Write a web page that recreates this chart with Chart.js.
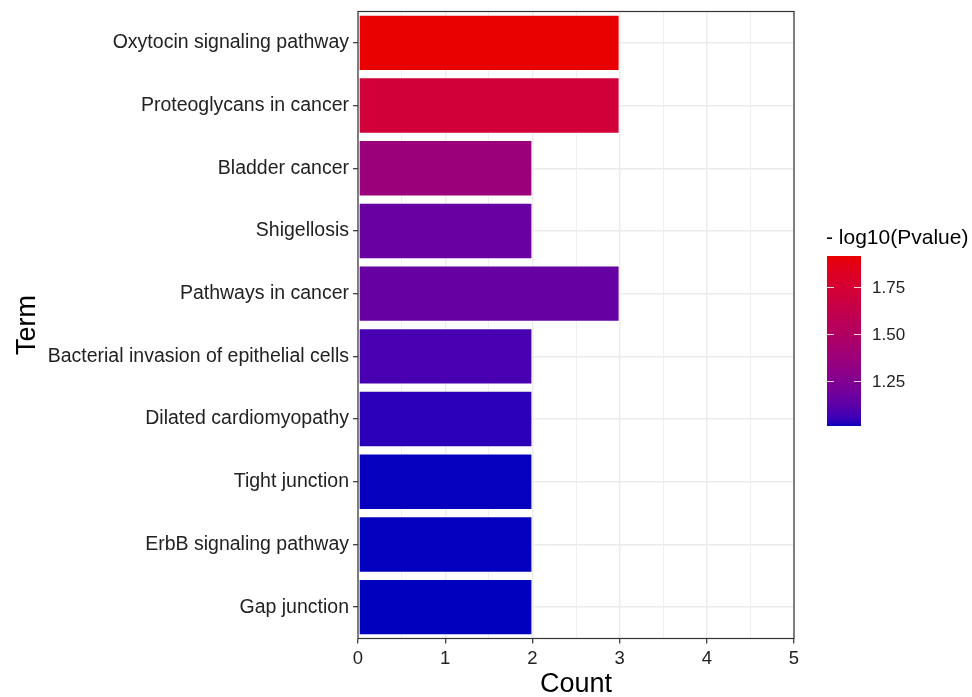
<!DOCTYPE html>
<html>
<head>
<meta charset="utf-8">
<script src="https://cdn.jsdelivr.net/npm/chart.js@4.4.1/dist/chart.umd.min.js"></script>
<style>
  html, body { margin: 0; padding: 0; background: #ffffff; }
  #wrap { width: 972px; height: 697px; position: relative; }
</style>
</head>
<body>
<div id="wrap"><canvas id="chart" width="972" height="697"></canvas></div>
<script>
// Enriched KEGG terms, top to bottom
const terms = [
  'Oxytocin signaling pathway',
  'Proteoglycans in cancer',
  'Bladder cancer',
  'Shigellosis',
  'Pathways in cancer',
  'Bacterial invasion of epithelial cells',
  'Dilated cardiomyopathy',
  'Tight junction',
  'ErbB signaling pathway',
  'Gap junction'
];
// Number of genes per term
const counts = [3, 3, 2, 2, 3, 2, 2, 2, 2, 2];
// -log10(P value) per term, mapped to the fill colour
const negLogP = [1.913, 1.72, 1.37, 1.16, 1.155, 1.08, 1.035, 1.011, 1.010, 1.009];
// Colour bar labels
const legendTicks = [1.25, 1.5, 1.75];

const FONT = '"Liberation Sans", Arial, Helvetica, sans-serif';
const LOW_COLOR = [0, 0, 190];
const HIGH_COLOR = [233, 0, 0];

// ---- Lab-space gradient (like ggplot's scale_fill_gradient) ----
function toLin(c) { c /= 255; return c <= 0.04045 ? c / 12.92 : Math.pow((c + 0.055) / 1.055, 2.4); }
function fromLin(v) {
  v = v <= 0.0031308 ? 12.92 * v : 1.055 * Math.pow(v, 1 / 2.4) - 0.055;
  return Math.round(Math.max(0, Math.min(1, v)) * 255);
}
function rgbToLab(rgb) {
  const R = toLin(rgb[0]), G = toLin(rgb[1]), B = toLin(rgb[2]);
  const X = (0.4124 * R + 0.3576 * G + 0.1805 * B) / 0.95047;
  const Y = 0.2126 * R + 0.7152 * G + 0.0722 * B;
  const Z = (0.0193 * R + 0.1192 * G + 0.9505 * B) / 1.08883;
  const f = t => t > 0.008856 ? Math.cbrt(t) : 7.787 * t + 16 / 116;
  const fx = f(X), fy = f(Y), fz = f(Z);
  return [116 * fy - 16, 500 * (fx - fy), 200 * (fy - fz)];
}
function labToRgb(lab) {
  const fy = (lab[0] + 16) / 116, fx = fy + lab[1] / 500, fz = fy - lab[2] / 200;
  const inv = t => { const t3 = t * t * t; return t3 > 0.008856 ? t3 : (t - 16 / 116) / 7.787; };
  const X = inv(fx) * 0.95047, Y = inv(fy), Z = inv(fz) * 1.08883;
  const R = 3.2406 * X - 1.5372 * Y - 0.4986 * Z;
  const G = -0.9689 * X + 1.8758 * Y + 0.0415 * Z;
  const B = 0.0557 * X - 0.2040 * Y + 1.0570 * Z;
  return [fromLin(R), fromLin(G), fromLin(B)];
}
const labLow = rgbToLab(LOW_COLOR), labHigh = rgbToLab(HIGH_COLOR);
const vMin = Math.min(...negLogP), vMax = Math.max(...negLogP);
function fillFor(v) {
  const t = Math.max(0, Math.min(1, (v - vMin) / (vMax - vMin)));
  const lab = [0, 1, 2].map(i => labLow[i] + (labHigh[i] - labLow[i]) * t);
  const c = labToRgb(lab);
  return 'rgb(' + c[0] + ',' + c[1] + ',' + c[2] + ')';
}

// ---- panel border + colour bar legend ----
const panelAndLegend = {
  id: 'panelAndLegend',
  afterDatasetsDraw(chart) {
    const { ctx, chartArea: a } = chart;
    ctx.save();
    ctx.strokeStyle = '#333333';
    ctx.lineWidth = 1.2;
    ctx.strokeRect(a.left, a.top, a.right - a.left, a.bottom - a.top);
    ctx.restore();
  },
  afterDraw(chart) {
    const { ctx } = chart;
    const x0 = 827, w = 34, yTop = 256, yBot = 426;
    const valAt = y => vMax - (y - yTop) / (yBot - yTop) * (vMax - vMin);
    const yAt = v => yTop + (vMax - v) / (vMax - vMin) * (yBot - yTop);
    ctx.save();
    for (let y = yTop; y < yBot; y++) {
      ctx.fillStyle = fillFor(valAt(y + 0.5));
      ctx.fillRect(x0, y, w, 1);
    }
    ctx.strokeStyle = 'rgba(255,255,255,0.85)';
    ctx.lineWidth = 1;
    ctx.font = '17px ' + FONT;
    ctx.fillStyle = '#222222';
    ctx.textBaseline = 'middle';
    ctx.textAlign = 'left';
    legendTicks.forEach(v => {
      const y = Math.round(yAt(v)) + 0.5;
      ctx.beginPath();
      ctx.moveTo(x0, y); ctx.lineTo(x0 + 7, y);
      ctx.moveTo(x0 + w - 7, y); ctx.lineTo(x0 + w, y);
      ctx.stroke();
      ctx.fillText(v.toFixed(2), 872, y + 1);
    });
    ctx.font = '21px ' + FONT;
    ctx.fillStyle = '#000000';
    ctx.fillText('- log10(Pvalue)', 826, 238);
    ctx.restore();
  }
};

new Chart(document.getElementById('chart'), {
  type: 'bar',
  data: {
    labels: terms,
    datasets: [{
      data: counts,
      backgroundColor: negLogP.map(fillFor),
      borderColor: 'rgba(255,255,255,0.6)',
      borderWidth: 1,
      borderSkipped: false,
      barPercentage: 0.9,
      categoryPercentage: 1.0
    }]
  },
  options: {
    indexAxis: 'y',
    responsive: false,
    animation: false,
    layout: { padding: { top: 11.5, right: 178, bottom: 0, left: 0 } },
    plugins: { legend: { display: false }, tooltip: { enabled: false } },
    scales: {
      x: {
        type: 'linear',
        min: 0, max: 5,
        afterFit(scale) { scale.height = 58.5; },
        ticks: {
          stepSize: 0.5,
          autoSkip: false,
          maxRotation: 0,
          padding: 4,
          color: '#222222',
          font: { family: FONT, size: 18.5 },
          callback: v => Number.isInteger(v) ? String(v) : ''
        },
        grid: {
          color: '#EBEBEB',
          lineWidth: c => Number.isInteger(c.tick.value) ? 1.4 : 0.8,
          tickColor: c => Number.isInteger(c.tick.value) ? '#333333' : 'rgba(0,0,0,0)',
          tickLength: 5,
          tickWidth: 1.2
        },
        border: { display: false },
        title: {
          display: true,
          text: 'Count',
          color: '#000000',
          font: { family: FONT, size: 27, lineHeight: 1 },
          padding: { top: 0, bottom: -1 }
        }
      },
      y: {
        afterFit(scale) {
          scale.width = 358;
          // category labels sit inside their bands, no overhang needed
          scale.paddingTop = 0;
          scale.paddingBottom = 0;
        },
        ticks: {
          padding: 4,
          autoSkip: false,
          color: '#222222',
          font: { family: FONT, size: 19.5 }
        },
        grid: {
          offset: false,
          color: '#EBEBEB',
          lineWidth: 1.4,
          tickColor: '#333333',
          tickLength: 5,
          tickWidth: 1.2
        },
        border: { display: false },
        title: {
          display: true,
          text: 'Term',
          color: '#000000',
          font: { family: FONT, size: 27, lineHeight: 1 },
          padding: { top: 14, bottom: 0 }
        }
      }
    }
  },
  plugins: [panelAndLegend]
});
</script>
</body>
</html>
